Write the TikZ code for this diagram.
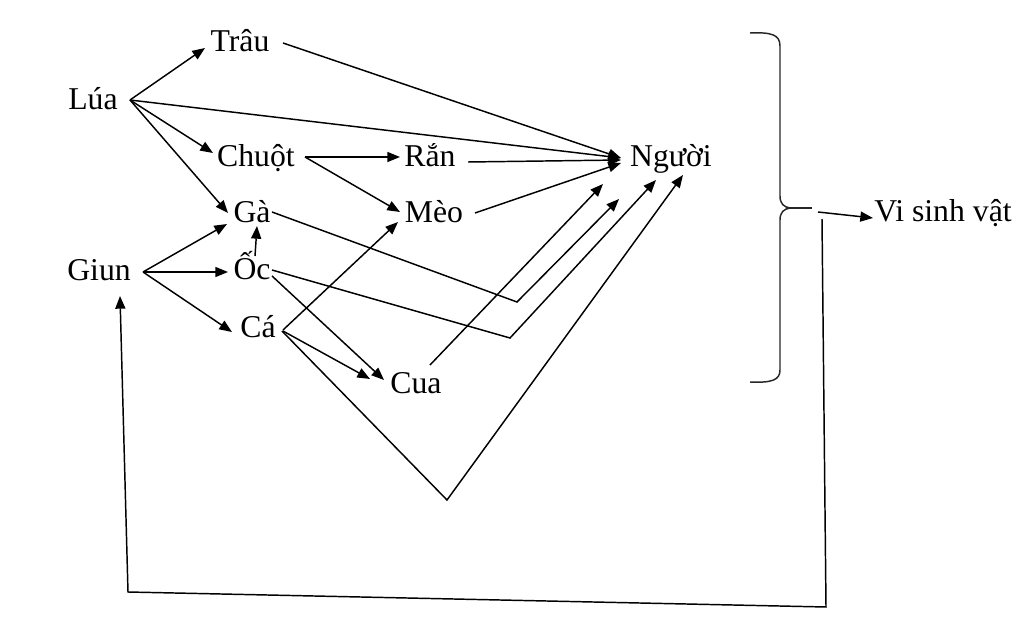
\documentclass[tikz,border=0pt]{standalone}
\usepackage{fontspec}
\setmainfont{Liberation Serif}
\usetikzlibrary{arrows.meta,calc}
\begin{document}
\begin{tikzpicture}[x=0.75pt,y=-0.75pt,
  lbl/.style={anchor=base,inner sep=0pt,font=\fontsize{23.8}{28}\selectfont},
  ln/.style={line width=1.1pt,black},
  arr/.style={ln,-{Triangle[length=9.5pt,width=7.5pt]}}]
\useasboundingbox (0,0) rectangle (1024,641);
% nodes
\node[lbl] (Trau)  at (240,52)  {Trâu};
\node[lbl] (Lua)   at (93,110)  {Lúa};
\node[lbl] (Chuot) at (256,167) {Chuột};
\node[lbl] (Ran)   at (430,167) {Rắn};
\node[lbl] (Nguoi) at (671,167) {Người};
\node[lbl] (Ga)    at (252,223) {Gà};
\node[lbl] (Meo)   at (434,223) {Mèo};
\node[lbl] (Giun)  at (99,281)  {Giun};
\node[lbl] (Oc)    at (252,280) {Ốc};
\node[lbl] (Ca)    at (258,338) {Cá};
\node[lbl] (Cua)   at (416,393) {Cua};
\node[lbl] (VSV)   at (943,222) {Vi sinh vật};
% helper coordinates
\coordinate (k1) at (517,302);
\coordinate (k2) at (510,338);
\coordinate (k3) at (447,500);
\coordinate (s1) at (818,212);
\coordinate (s2) at (822,219);
\coordinate (b1) at (826,607);
\coordinate (b2) at (128,592);
% edges
\draw[arr] ($(Lua.base)+(37,-10)$) -- ($(Trau.base)+(-35,-4)$);
\draw[arr] ($(Lua.base)+(37,-10)$) -- ($(Chuot.base)+(-43,-14)$);
\draw[arr] ($(Lua.base)+(37,-10)$) -- ($(Ga.base)+(-24,-10)$);
\draw[arr] ($(Lua.base)+(37,-10)$) -- ($(Nguoi.base)+(-50,-9)$);
\draw[arr] ($(Trau.base)+(43,-9)$) -- ($(Nguoi.base)+(-50,-9)$);
\draw[arr] ($(Chuot.base)+(49,-10)$) -- ($(Ran.base)+(-30,-10)$);
\draw[arr] ($(Chuot.base)+(49,-10)$) -- ($(Meo.base)+(-34,-11)$);
\draw[arr] ($(Ran.base)+(38,-5)$) -- ($(Nguoi.base)+(-50,-7)$);
\draw[arr] ($(Meo.base)+(41,-10)$) -- ($(Nguoi.base)+(-50,-4)$);
\draw[arr] ($(Ga.base)+(20,-11)$) -- (k1) -- ($(Nguoi.base)+(-52,32)$);
\draw[arr] ($(Oc.base)+(20,-10)$) -- (k2) -- ($(Nguoi.base)+(-15,13)$);
\draw[arr] ($(Ca.base)+(24,-7)$) -- (k3) -- ($(Nguoi.base)+(12,8)$);
\draw[arr] ($(Cua.base)+(14,-28)$) -- ($(Nguoi.base)+(-68,17)$);
\draw[arr] ($(Giun.base)+(44,-9)$) -- ($(Ga.base)+(-25,1)$);
\draw[arr] ($(Giun.base)+(44,-9)$) -- ($(Oc.base)+(-24,-8)$);
\draw[arr] ($(Giun.base)+(44,-9)$) -- ($(Ca.base)+(-26,-6)$);
\draw[arr] ($(Oc.base)+(3,-24)$) -- ($(Ga.base)+(5,3)$);
\draw[arr] ($(Oc.base)+(20,-4)$) -- ($(Cua.base)+(-32,-13)$);
\draw[arr] ($(Ca.base)+(25,-7)$) -- ($(Cua.base)+(-46,-14)$);
\draw[arr] ($(Ca.base)+(25,-8)$) -- ($(Meo.base)+(-36,-1)$);
% brace
\draw[line width=1.1pt,black!85] (750,33) .. controls (772,32) and (780,35) .. (780,46)
  -- (780,196) .. controls (780,204) and (784,207) .. (790,208)
  .. controls (784,209) and (780,212) .. (780,220)
  -- (780,370) .. controls (780,380) and (772,383) .. (750,382);
\draw[line width=1.1pt,black!85] (786,208) -- (812,208);
% to microorganisms and back
\draw[arr] (s1) -- ($(VSV.base)+(-70,-4)$);
\draw[arr] (s2) -- (b1) -- (b2) -- ($(Giun.base)+(21,15)$);
\end{tikzpicture}
\end{document}
